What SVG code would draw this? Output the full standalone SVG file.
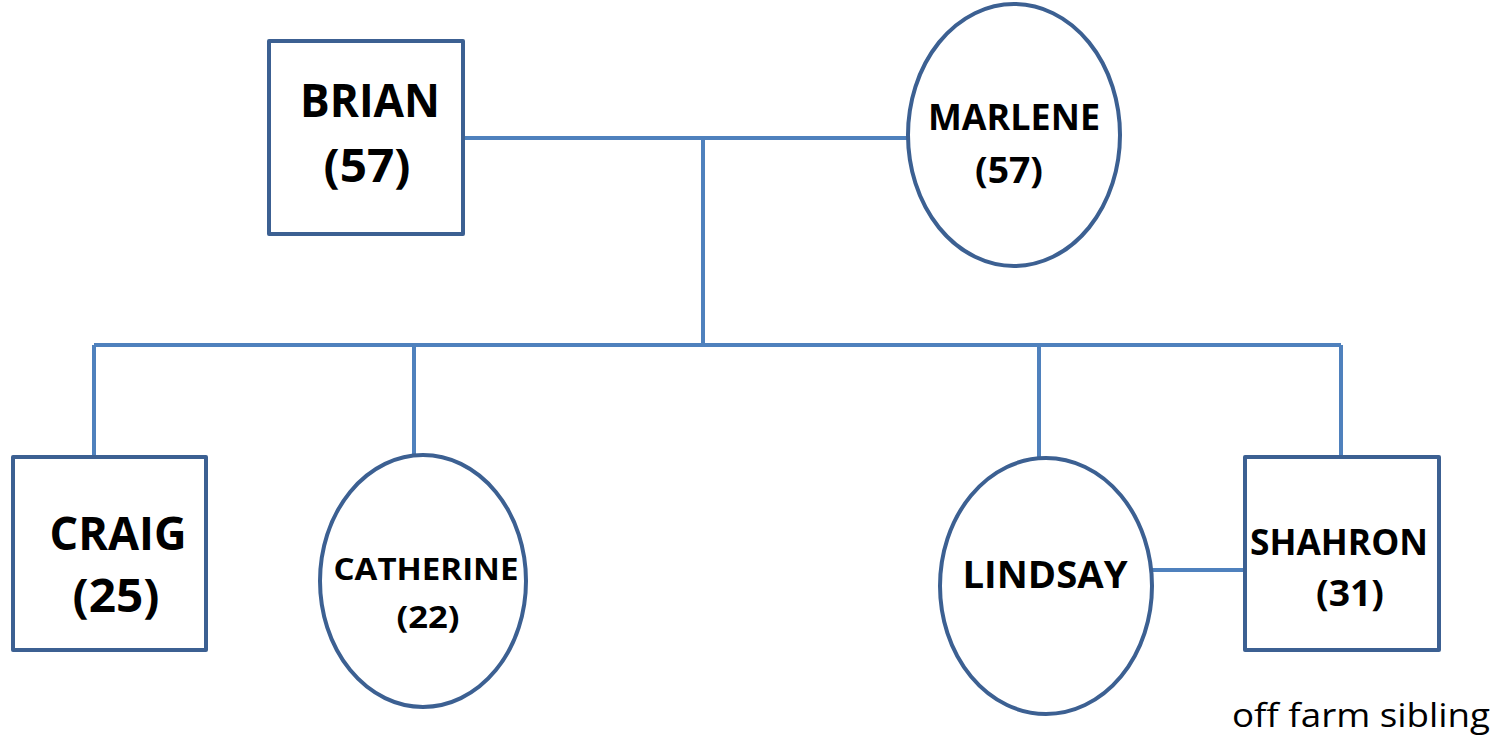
<svg xmlns="http://www.w3.org/2000/svg" width="1499" height="739" viewBox="0 0 1499 739">
<style>
.n{fill:#fff;stroke:#3C6092;stroke-width:4;stroke-linejoin:round}
.c{stroke:#4F81BD;stroke-width:4;fill:none}
.t{font-family:"Open Sans","Noto Sans",sans-serif;font-weight:bold;fill:#000;text-anchor:middle}
.r{font-family:"Open Sans","Noto Sans",sans-serif;fill:#000}
</style>
<rect width="1499" height="739" fill="#fff"/>
<g id="connectors">
<path class="c" d="M463 138H908M703 138V345M94 345H1341M94 345V457M414 345V455M1039 345V458M1341 345V457M1152 570H1245"/>
</g>
<g id="brian">
<rect class="n" x="269" y="41" width="194" height="193"/>
<text class="t" x="370" y="117" font-size="46" textLength="140" lengthAdjust="spacingAndGlyphs">BRIAN</text>
<text class="t" x="367" y="182" font-size="46" textLength="87" lengthAdjust="spacingAndGlyphs">(57)</text>
</g>
<g id="marlene">
<ellipse class="n" cx="1014" cy="135" rx="106" ry="131"/>
<text class="t" x="1014" y="130" font-size="35" textLength="172" lengthAdjust="spacingAndGlyphs">MARLENE</text>
<text class="t" x="1009" y="183" font-size="35" textLength="68" lengthAdjust="spacingAndGlyphs">(57)</text>
</g>
<g id="craig">
<rect class="n" x="13" y="457" width="193" height="193"/>
<text class="t" x="118" y="550" font-size="46" textLength="137" lengthAdjust="spacingAndGlyphs">CRAIG</text>
<text class="t" x="116" y="612" font-size="46" textLength="87" lengthAdjust="spacingAndGlyphs">(25)</text>
</g>
<g id="catherine">
<ellipse class="n" cx="423" cy="581" rx="103" ry="126"/>
<text class="t" x="426" y="580" font-size="30" textLength="185" lengthAdjust="spacingAndGlyphs">CATHERINE</text>
<text class="t" x="428" y="628" font-size="30" textLength="63" lengthAdjust="spacingAndGlyphs">(22)</text>
</g>
<g id="lindsay">
<ellipse class="n" cx="1046" cy="586" rx="106" ry="128"/>
<text class="t" x="1045" y="588" font-size="38" textLength="165" lengthAdjust="spacingAndGlyphs">LINDSAY</text>
</g>
<g id="shahron">
<rect class="n" x="1245" y="457" width="194" height="193"/>
<text class="t" x="1339" y="555" font-size="35" textLength="178" lengthAdjust="spacingAndGlyphs">SHAHRON</text>
<text class="t" x="1350" y="606" font-size="35" textLength="68" lengthAdjust="spacingAndGlyphs">(31)</text>
</g>
<text class="r" x="1232" y="727" font-size="32" textLength="258" lengthAdjust="spacingAndGlyphs">off farm sibling</text>
</svg>
